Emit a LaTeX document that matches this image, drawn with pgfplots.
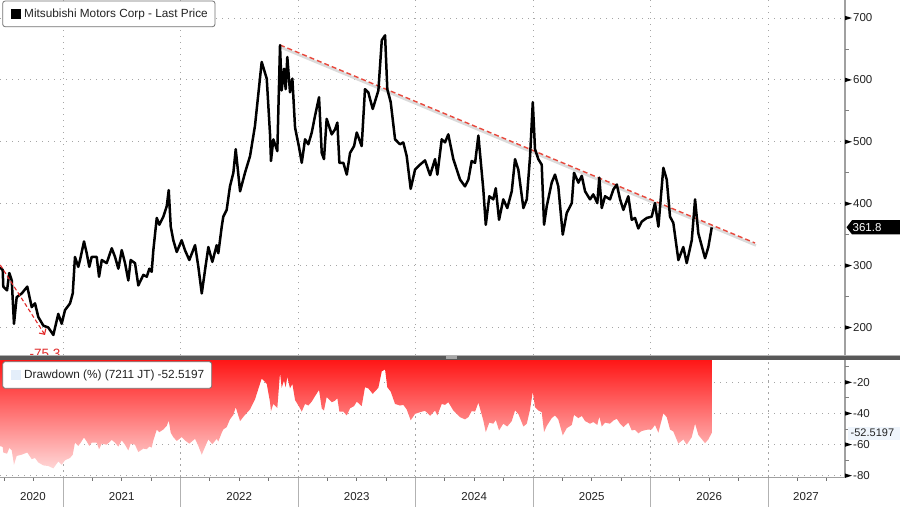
\documentclass[border=0pt]{standalone}
\usepackage{fontspec}
\setmainfont{Liberation Sans}
\usepackage{pgfplots}
\pgfplotsset{compat=1.18}
\usepackage{pgfplotstable}
\usetikzlibrary{arrows.meta}

\definecolor{ddtop}{RGB}{255,22,22}
\definecolor{ddbot}{RGB}{255,214,214}
\definecolor{gridc}{RGB}{165,165,165}
\definecolor{axisc}{RGB}{160,160,160}
\definecolor{trend}{RGB}{232,72,60}
\definecolor{legblue}{RGB}{228,238,250}
\definecolor{sepbar}{RGB}{88,88,88}
\definecolor{txt}{RGB}{35,35,35}
\definecolor{arr}{RGB}{225,40,40}

\pgfplotstableread{
x price dd
2020.464 297 -61.0
2020.487 293 -61.5
2020.492 266 -65.1
2020.524 260 -65.9
2020.543 288 -62.2
2020.564 276 -63.8
2020.583 206 -73.0
2020.606 249 -67.3
2020.649 255 -66.5
2020.696 266 -65.1
2020.734 233 -69.4
2020.762 239 -68.6
2020.790 217 -71.5
2020.833 203 -73.4
2020.875 200 -73.8
2020.918 188 -75.3
2020.960 222 -70.9
2020.989 206 -73.0
2021.017 228 -70.1
2021.060 239 -68.6
2021.083 255 -66.5
2021.102 314 -58.8
2021.130 298 -60.9
2021.145 309 -59.4
2021.179 339 -55.5
2021.202 320 -58.0
2021.224 298 -60.9
2021.244 314 -58.8
2021.287 314 -58.8
2021.307 282 -63.0
2021.330 309 -59.4
2021.372 304 -60.1
2021.415 328 -57.0
2021.443 314 -58.8
2021.471 295 -61.3
2021.500 325 -57.3
2021.528 304 -60.1
2021.556 276 -63.8
2021.576 309 -59.4
2021.613 304 -60.1
2021.641 268 -64.8
2021.684 285 -62.6
2021.713 282 -63.0
2021.735 295 -61.3
2021.755 290 -61.9
2021.769 325 -57.3
2021.798 377 -50.5
2021.820 366 -52.0
2021.854 379 -50.3
2021.883 396 -48.0
2021.900 422 -44.6
2021.917 363 -52.4
2021.939 341 -55.2
2021.968 322 -57.7
2022.010 341 -55.2
2022.038 325 -57.3
2022.075 309 -59.4
2022.124 333 -56.3
2022.152 298 -60.9
2022.181 255 -66.5
2022.209 293 -61.5
2022.237 330 -56.7
2022.271 306 -59.8
2022.308 333 -56.3
2022.322 320 -58.0
2022.351 363 -52.4
2022.364 379 -50.3
2022.393 390 -48.8
2022.421 428 -43.8
2022.450 450 -40.9
2022.470 488 -36.0
2022.507 420 -44.9
2022.549 450 -40.9
2022.592 477 -37.4
2022.634 526 -31.0
2022.691 629 -17.5
2022.734 602 -21.0
2022.762 512 -32.8
2022.770 469 -38.5
2022.790 504 -33.9
2022.824 485 -36.4
2022.847 656 -13.9
2022.861 583 -23.5
2022.881 618 -18.9
2022.895 585 -23.2
2022.909 637 -16.4
2022.932 580 -23.9
2022.952 602 -21.0
2022.975 523 -31.4
2023.009 491 -35.6
2023.032 466 -38.8
2023.060 504 -33.9
2023.088 496 -34.9
2023.117 515 -32.4
2023.145 542 -28.9
2023.179 572 -24.9
2023.202 482 -36.7
2023.221 472 -38.1
2023.244 537 -29.5
2023.287 512 -32.8
2023.315 520 -31.8
2023.335 531 -30.3
2023.352 466 -38.8
2023.386 466 -38.8
2023.415 447 -41.3
2023.443 482 -36.7
2023.477 493 -35.3
2023.500 515 -32.4
2023.542 493 -35.3
2023.570 585 -23.2
2023.598 580 -23.9
2023.636 553 -27.4
2023.684 583 -23.5
2023.713 664 -12.9
2023.741 672 -11.8
2023.760 585 -23.2
2023.789 564 -26.0
2023.826 504 -33.9
2023.868 496 -34.9
2023.896 499 -34.5
2023.925 477 -37.4
2023.959 424 -44.4
2023.996 455 -40.3
2024.038 463 -39.2
2024.081 470 -38.3
2024.124 446 -41.5
2024.166 472 -38.1
2024.186 447 -41.3
2024.223 504 -33.9
2024.251 499 -34.5
2024.279 512 -32.8
2024.322 472 -38.1
2024.379 439 -42.4
2024.421 428 -43.8
2024.450 439 -42.4
2024.478 469 -38.5
2024.507 466 -38.8
2024.535 510 -33.1
2024.564 450 -40.9
2024.577 423 -44.5
2024.598 366 -52.0
2024.628 412 -45.9
2024.662 407 -46.6
2024.683 425 -44.2
2024.711 374 -50.9
2024.747 407 -46.6
2024.781 393 -48.4
2024.819 420 -44.9
2024.847 472 -38.1
2024.875 455 -40.3
2024.918 393 -48.4
2024.947 407 -46.6
2024.975 477 -37.4
2024.998 564 -26.0
2025.017 488 -36.0
2025.045 472 -38.1
2025.074 463 -39.2
2025.094 366 -52.0
2025.117 396 -48.0
2025.159 434 -43.0
2025.187 447 -41.3
2025.215 428 -43.8
2025.253 350 -54.1
2025.287 385 -49.5
2025.330 401 -47.4
2025.349 450 -40.9
2025.386 434 -43.0
2025.415 445 -41.6
2025.443 420 -44.9
2025.485 407 -46.6
2025.513 415 -45.5
2025.547 401 -47.4
2025.564 442 -42.0
2025.585 393 -48.4
2025.613 412 -45.9
2025.655 407 -46.6
2025.684 423 -44.5
2025.713 431 -43.4
2025.741 407 -46.6
2025.769 390 -48.8
2025.811 412 -45.9
2025.840 374 -50.9
2025.868 377 -50.5
2025.896 360 -52.8
2025.925 371 -51.3
2025.968 377 -50.5
2026.010 379 -50.3
2026.038 401 -47.4
2026.067 363 -52.4
2026.109 458 -39.9
2026.138 439 -42.4
2026.166 379 -50.3
2026.194 369 -51.6
2026.237 309 -59.4
2026.279 330 -56.7
2026.308 304 -60.1
2026.351 341 -55.2
2026.379 407 -46.6
2026.407 352 -53.8
2026.464 312 -59.1
2026.492 330 -56.7
2026.521 361.8 -52.5
}\data

\begin{document}
\begin{tikzpicture}
\useasboundingbox (0pt,0pt) rectangle (900pt,507pt);
\fill[white] (0pt,0pt) rectangle (900pt,507pt);

% ---------------- top panel: price ----------------
\begin{axis}[
  at={(0pt,152pt)}, anchor=south west,
  width=845pt, height=355pt, scale only axis,
  xmin=2020.464, xmax=2027.655, ymin=155.57, ymax=729.08,
  axis line style={draw=none},
  xtick={2021,2022,...,2027}, ytick={200,300,...,700},
  xticklabels={}, yticklabels={},
  major tick length=0pt, minor tick length=0pt,
  xmajorgrids, ymajorgrids,
  grid style={gridc, line width=0.9pt, dash pattern=on 1.2pt off 4.8pt},
]
\addplot[black!14, line width=2.6pt, xshift=1pt, yshift=-2.4pt] coordinates {(2022.847,656.4) (2026.889,336.5)};
\addplot[trend, line width=1.4pt, dash pattern=on 5pt off 3pt] coordinates {(2022.847,656.4) (2026.889,336.5)};
\addplot[black, line width=2.5pt, line join=round] table[x=x,y=price]{\data};
\addplot[arr, line width=1.1pt, dash pattern=on 4pt off 2.5pt, -{Straight Barb[length=4pt,width=8pt]}] coordinates {(2020.466,301) (2020.847,188)};
\end{axis}

% label of the fall, cut by the lower panel
\node[anchor=base, text=arr, font=\fontsize{13.5}{15}\selectfont, inner sep=0pt] at (45pt,149pt) {-75.3};

% lower panel background and separator
\fill[white] (0pt,29.5pt) rectangle (845pt,147pt);
\fill[sepbar] (0pt,147pt) rectangle (900pt,151.5pt);
\fill[black!30] (0pt,151.5pt) rectangle (900pt,152.5pt);
\fill[black!35] (446pt,148.3pt) rectangle (457pt,150.8pt);

% ---------------- bottom panel: drawdown ----------------
\begin{axis}[
  at={(0pt,29.5pt)}, anchor=south west,
  width=845pt, height=117.5pt, scale only axis,
  xmin=2020.464, xmax=2027.655, ymin=-81.17, ymax=-5.66,
  axis line style={draw=none},
  xtick={2021,2022,...,2027}, ytick={-80,-60,-40,-20},
  xticklabels={}, yticklabels={},
  major tick length=0pt, minor tick length=0pt,
  xmajorgrids, ymajorgrids,
  grid style={gridc, line width=0.9pt, dash pattern=on 1.2pt off 4.8pt},
]
\addplot[draw=none, top color=ddtop, bottom color=ddbot] table[x=x,y=dd]{\data} \closedcycle;
\end{axis}

% ---------------- right axis ----------------
\draw[axisc, line width=1.6pt] (845pt,152pt) -- (845pt,507pt);
\draw[axisc, line width=1.6pt] (845pt,29.5pt) -- (845pt,147pt);
\foreach \yy/\lab in {489/700,427.1/600,365.2/500,303.3/400,241.4/300,179.5/200}{
  \fill[black] (845pt,\yy pt+2.2pt) -- (852pt,\yy pt) -- (845pt,\yy pt-2.2pt) -- cycle;
  \node[anchor=west, inner sep=0pt, text=txt, font=\fontsize{11.5}{13}\selectfont] at (853pt,\yy pt) {\lab};
}
\foreach \yy in {458.05,396.15,334.25,272.35,210.45}{
  \draw[black!50, line width=0.8pt] (845pt,\yy pt) -- (849pt,\yy pt);
}
\foreach \yy/\lab in {124.68/-20,93.56/-40,62.44/-60,31.32/-80}{
  \fill[black] (845pt,\yy pt+2.2pt) -- (852pt,\yy pt) -- (845pt,\yy pt-2.2pt) -- cycle;
  \node[anchor=west, inner sep=0pt, text=txt, font=\fontsize{11.5}{13}\selectfont] at (853pt,\yy pt) {\lab};
}
\foreach \yy in {140.24,109.12,78.0,46.88}{
  \draw[black!50, line width=0.8pt] (845pt,\yy pt) -- (849pt,\yy pt);
}

% last value tags
\fill[black] (846.5pt,279.7pt) -- (852pt,286.8pt) -- (900pt,286.8pt) -- (900pt,272.6pt) -- (852pt,272.6pt) -- cycle;
\node[anchor=west, inner sep=0pt, text=white, font=\fontsize{11.5}{13}\selectfont] at (852.5pt,279.7pt) {361.8};
\fill[legblue!60] (848pt,67.5pt) rectangle (900pt,80.5pt);
\node[anchor=west, inner sep=0pt, text=txt, font=\fontsize{11}{12}\selectfont] at (850.5pt,74pt) {-52.5197};

% ---------------- x axis ----------------
\draw[axisc, line width=1.2pt] (0pt,29.5pt) -- (845pt,29.5pt);
\foreach \k in {0,...,28}{
  \draw[black!55, line width=0.8pt] ({4.2pt+29.375pt*\k},29.5pt) -- ({4.2pt+29.375pt*\k},26pt);
}
\foreach \k in {0,...,6}{
  \draw[black!30, line width=1pt] ({63pt+117.5pt*\k},29.5pt) -- ({63pt+117.5pt*\k},0pt);
}
\foreach \xx/\lab in {33/2020,121.7/2021,239.2/2022,356.7/2023,474.2/2024,591.7/2025,709.2/2026,806/2027}{
  \node[text=txt, font=\fontsize{11.5}{13}\selectfont, inner sep=0pt] at (\xx pt,10pt) {\lab};
}

% ---------------- legends ----------------
\draw[black!55, fill=white, rounded corners=2.5pt, line width=0.8pt] (2.7pt,506pt) rectangle (215pt,480.3pt);
\fill[black] (10.7pt,487.7pt) rectangle (20.7pt,497.7pt);
\node[anchor=west, inner sep=0pt, text=txt, font=\fontsize{11.8}{13}\selectfont] at (24pt,492.6pt) {Mitsubishi Motors Corp - Last Price};

\draw[black!55, fill=white, rounded corners=2.5pt, line width=0.8pt] (2.7pt,145.3pt) rectangle (211.7pt,118.7pt);
\fill[legblue] (10.7pt,127.3pt) rectangle (20.7pt,137.3pt);
\node[anchor=west, inner sep=0pt, text=txt, font=\fontsize{11.8}{13}\selectfont] at (24pt,132pt) {Drawdown (\%) (7211 JT) -52.5197};
\end{tikzpicture}
\end{document}
